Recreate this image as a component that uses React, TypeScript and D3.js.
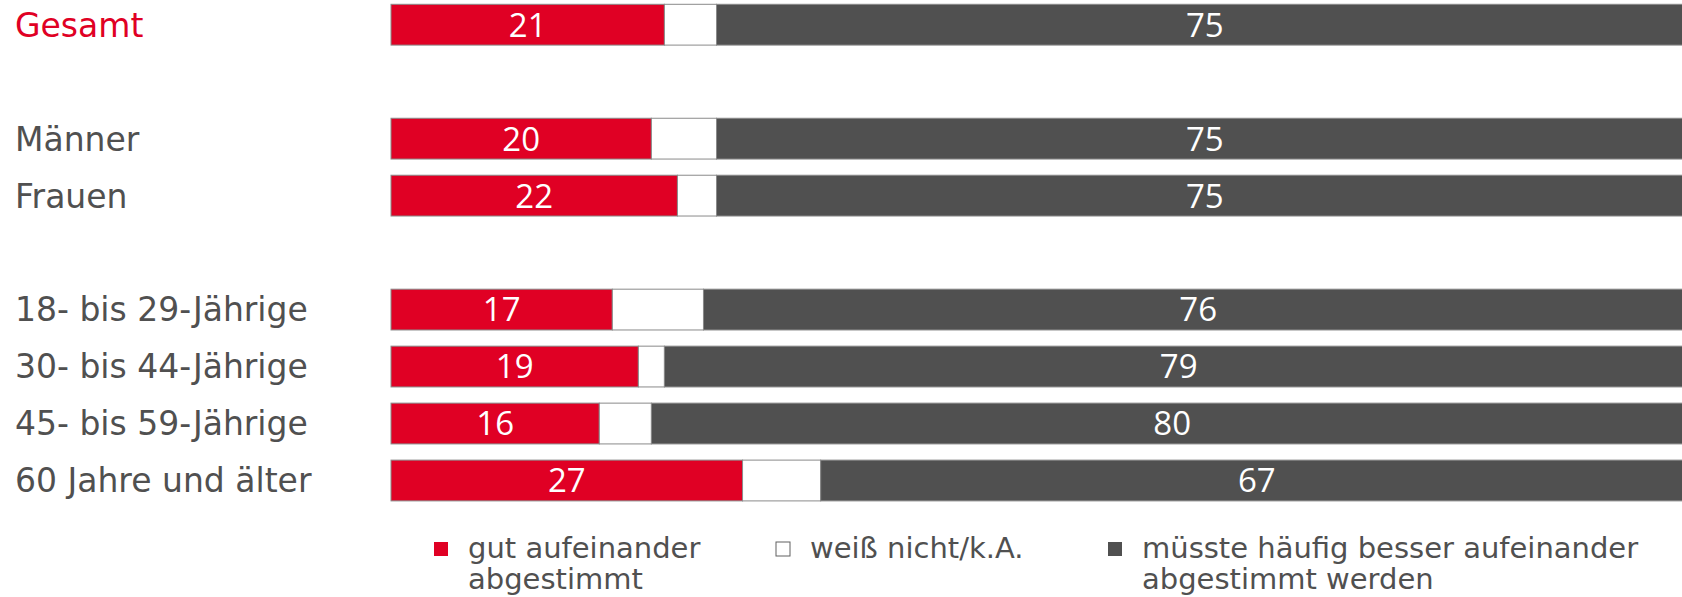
import React from 'react';
import * as d3 from 'd3';

// data
const groups = [
  ['Gesamt'],
  ['Männer', 'Frauen'],
  ['18- bis 29-Jährige', '30- bis 44-Jährige', '45- bis 59-Jährige', '60 Jahre und älter'],
];
const gut = [21, 20, 22, 17, 19, 16, 27];
const weissNicht = [4, 5, 3, 7, 2, 4, 6];
const muesste = [75, 75, 75, 76, 79, 80, 67];
const seriesNames = ['gut aufeinander abgestimmt', 'weiß nicht/k.A.', 'müsste häufig besser aufeinander abgestimmt werden'];

const W = 1682;
const H = 597;
const RED = '#E00024';
const DARK = '#505050';
const colors = [RED, '#FFFFFF', DARK];
const showLabel = [true, false, true];

const categories = groups.flat();
// slot domain with an empty slot between the groups
const slots: string[] = [];
groups.forEach((g, i) => {
  if (i > 0) slots.push(`__gap${i}`);
  g.forEach(c => slots.push(c));
});

const rows = categories.map((c, i) => ({ cat: c, a: gut[i], b: weissNicht[i], c2: muesste[i] }));
const stack = d3.stack<any>().keys(['a', 'b', 'c2']);
const stacked = stack(rows);

const x = d3.scaleLinear().domain([0, 100]).range([391, 1693]);
const y = d3.scaleBand<string>().domain(slots).range([4.3, 500.9]).paddingInner(0.284).paddingOuter(0);

const legendX = [434, 776, 1108];
const legendLines = [['gut aufeinander', 'abgestimmt'], ['weiß nicht/k.A.'], ['müsste häufig besser aufeinander', 'abgestimmt werden']];

const App: React.FC = () => {
  const bw = y.bandwidth();
  return (
    <svg width={W} height={H} style={{ position: 'absolute', left: 0, top: 0, background: '#fff' }}
      fontFamily="'DejaVu Sans', Verdana, sans-serif">
      {categories.map((c, i) => (
        <text key={c} x={15} y={(y(c) || 0) + bw / 2} dy="0.36em" fontSize={33}
          fill={i === 0 ? RED : DARK}>{c}</text>
      ))}
      {stacked.map((s, si) => (
        <g key={si}>
          {s.map((d, i) => {
            const cat = categories[i];
            const x0 = x(d[0]);
            const x1 = x(d[1]);
            const yy = y(cat) || 0;
            return (
              <g key={cat}>
                <rect x={x0} y={yy} width={x1 - x0} height={bw} fill={colors[si]}
                  stroke="#8a8a8a" strokeWidth={1} />
                {showLabel[si] && (
                  <text x={(x0 + x1) / 2} y={yy + bw / 2} dy="0.36em" textAnchor="middle"
                    fontFamily="'Open Sans', sans-serif" fontSize={33} fill="#fff">{d[1] - d[0]}</text>
                )}
              </g>
            );
          })}
        </g>
      ))}
      {seriesNames.map((n, i) => (
        <g key={n}>
          <rect x={legendX[i]} y={542} width={14} height={14} fill={colors[i]}
            stroke={i === 1 ? '#606060' : 'none'} strokeWidth={1} />
          {legendLines[i].map((ln, li) => (
            <text key={li} x={legendX[i] + 34} y={558 + li * 31} fontSize={29} fill={DARK}>{ln}</text>
          ))}
        </g>
      ))}
    </svg>
  );
};

export default App;
